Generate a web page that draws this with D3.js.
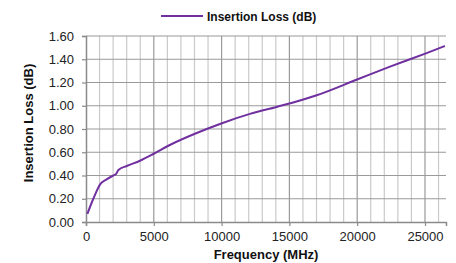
<!doctype html>
<head>
    <meta charset="utf-8">
    <title>Insertion Loss</title>
    <script src="https://d3js.org/d3.v7.min.js"></script>
    <style>
        body {margin:0;background:#fff}
        svg {width:456px; height:263px; display:block}
        text {font-family:"Liberation Sans", Arial, sans-serif; fill:#222}
        .title {font-size:13px; font-weight:bold; fill:#111}
        .legend {font-size:12px; font-weight:bold; fill:#111}
    </style>
</head>
<body>
    <script>
        "use strict";
        // frequency (MHz) and insertion loss (dB)
        var freq = [100, 540, 1080, 1520, 2010, 2200, 2390, 3000, 3980, 4960, 6070, 8900, 10030, 12090, 14060, 15780, 17010, 20040, 22420, 25070, 26470];
        var loss = [0.07, 0.20, 0.33, 0.367, 0.40, 0.41, 0.447, 0.482, 0.527, 0.585, 0.656, 0.80, 0.85, 0.93, 0.99, 1.045, 1.09, 1.228, 1.336, 1.451, 1.514];
        var xTicks = [0, 5000, 10000, 15000, 20000, 25000];
        var yTicks = [0, 0.2, 0.4, 0.6, 0.8, 1.0, 1.2, 1.4, 1.6];

        var pLeft = 86, pRight = 446, pTop = 36, pBottom = 222;
        var svg = d3.select("body").append("svg");

        var x = d3.scaleLinear().domain([0, 26550]).range([pLeft, pRight]);
        var y = d3.scaleLinear().domain([0, 1.6]).range([pBottom, pTop]);

        // minor vertical grid every 1000 MHz
        svg.append("g").selectAll("line")
            .data(d3.range(1000, 26550, 1000).filter(function(d) { return d % 5000 != 0; }))
            .enter().append("line")
            .attr("x1", function(d) { return x(d); }).attr("x2", function(d) { return x(d); })
            .attr("y1", pTop).attr("y2", pBottom)
            .attr("stroke", "#cacaca").attr("stroke-width", 1.2);

        // major grid
        svg.append("g").selectAll("line")
            .data(xTicks.slice(1))
            .enter().append("line")
            .attr("x1", function(d) { return x(d); }).attr("x2", function(d) { return x(d); })
            .attr("y1", pTop).attr("y2", pBottom)
            .attr("stroke", "#9a9a9a").attr("stroke-width", 1.2);
        svg.append("g").selectAll("line")
            .data(yTicks.slice(1))
            .enter().append("line")
            .attr("x1", pLeft).attr("x2", pRight)
            .attr("y1", function(d) { return y(d); }).attr("y2", function(d) { return y(d); })
            .attr("stroke", "#9a9a9a").attr("stroke-width", 1.2);

        // axes
        var xAxis = svg.append("g").attr("transform", "translate(0," + pBottom + ")")
            .call(d3.axisBottom(x).tickValues(xTicks).tickSize(4).tickPadding(4).tickFormat(d3.format("d")));
        var yAxis = svg.append("g").attr("transform", "translate(" + pLeft + ",0)")
            .call(d3.axisLeft(y).tickValues(yTicks).tickSize(4).tickPadding(8).tickFormat(d3.format(".2f")));
        [xAxis, yAxis].forEach(function(a) {
            a.select(".domain").attr("stroke", "#8a8a8a").attr("stroke-width", 1.5);
            a.selectAll(".tick line").attr("stroke", "#8a8a8a").attr("stroke-width", 1.2);
            a.selectAll(".tick text").attr("fill", "#222").style("font-family", "Liberation Sans, Arial, sans-serif").style("font-size", "13px");
        });
        xAxis.selectAll(".tick text").attr("dy", "0.85em");

        // series line
        var line = d3.line()
            .x(function(d, i) { return x(freq[i]); })
            .y(function(d) { return y(d); })
            .curve(d3.curveMonotoneX);
        svg.append("path").datum(loss)
            .attr("d", line)
            .attr("fill", "none")
            .attr("stroke", "#7030a0")
            .attr("stroke-width", 2);

        // legend
        svg.append("line").attr("x1", 161).attr("x2", 203).attr("y1", 16).attr("y2", 16)
            .attr("stroke", "#7030a0").attr("stroke-width", 2);
        svg.append("text").attr("class", "legend").attr("x", 207).attr("y", 20.5)
            .text("Insertion Loss (dB)");

        // axis titles
        svg.append("text").attr("class", "title").attr("text-anchor", "middle")
            .attr("x", (pLeft + pRight) / 2).attr("y", 259)
            .text("Frequency (MHz)");
        svg.append("text").attr("class", "title").attr("text-anchor", "middle")
            .attr("transform", "translate(33," + ((pTop + pBottom) / 2 - 6) + ") rotate(-90)")
            .text("Insertion Loss (dB)");
    </script>
</body>
</html>
